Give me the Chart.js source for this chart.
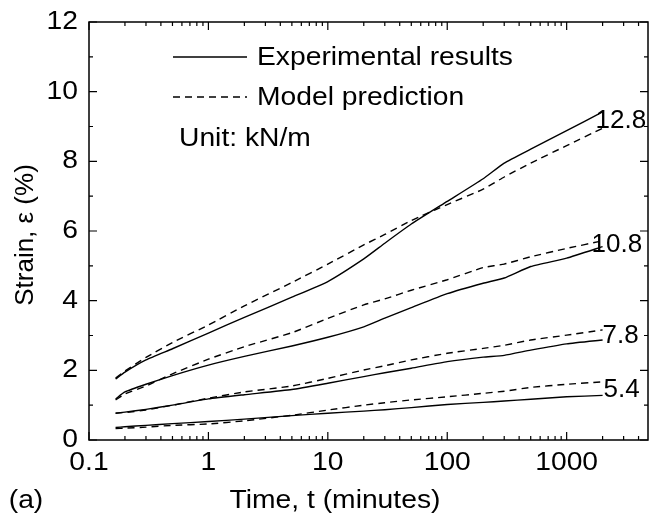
<!DOCTYPE html>
<html>
<head>
<meta charset="utf-8">
<script src="https://cdn.jsdelivr.net/npm/chart.js@4/dist/chart.umd.min.js"></script>
<style>
  html, body { margin: 0; padding: 0; background: #fff; }
  canvas { display: block; }
</style>
</head>
<body>
<canvas id="chart" width="651" height="518"></canvas>
<script>
// time in minutes (log axis)
const times = [0.167, 0.2, 0.3, 0.5, 1, 2, 5, 10, 20, 30, 50, 100, 200, 300, 500, 1000, 2000]

// load levels, kN/m
const loads = ['5.4', '7.8', '10.8', '12.8']

// strain (%) – experimental results
const exp54  = [0.36, 0.38, 0.42, 0.47, 0.53, 0.60, 0.70, 0.77, 0.83, 0.87, 0.93, 1.02, 1.08, 1.12, 1.17, 1.24, 1.28]
const exp78  = [0.77, 0.80, 0.88, 1.00, 1.18, 1.30, 1.45, 1.63, 1.82, 1.93, 2.06, 2.25, 2.38, 2.43, 2.58, 2.76, 2.87]
const exp108 = [1.18, 1.38, 1.60, 1.85, 2.15, 2.40, 2.70, 2.95, 3.25, 3.50, 3.80, 4.20, 4.50, 4.65, 4.98, 5.22, 5.55]
const exp128 = [1.75, 1.95, 2.30, 2.62, 3.07, 3.52, 4.10, 4.55, 5.20, 5.65, 6.20, 6.85, 7.50, 7.95, 8.35, 8.88, 9.42]

// strain (%) – model prediction
const mod54  = [0.33, 0.34, 0.37, 0.42, 0.46, 0.55, 0.71, 0.86, 1.00, 1.07, 1.15, 1.24, 1.34, 1.40, 1.51, 1.60, 1.67]
const mod78  = [0.77, 0.79, 0.86, 1.00, 1.20, 1.38, 1.55, 1.77, 2.01, 2.13, 2.30, 2.49, 2.63, 2.72, 2.87, 3.01, 3.16]
const mod108 = [1.15, 1.32, 1.55, 1.90, 2.32, 2.68, 3.08, 3.49, 3.88, 4.05, 4.30, 4.60, 4.95, 5.05, 5.26, 5.50, 5.72]
const mod128 = [1.78, 1.98, 2.37, 2.80, 3.30, 3.85, 4.52, 5.05, 5.60, 5.90, 6.30, 6.76, 7.20, 7.55, 7.95, 8.45, 8.95]

const xTicks = [0.1, 1, 10, 100, 1000]
const yTicks = [0, 2, 4, 6, 8, 10, 12]

const expSeries = [exp54, exp78, exp108, exp128]
const modSeries = [mod54, mod78, mod108, mod128]

const FONT = "'Liberation Sans', Arial, Helvetica, sans-serif"
Chart.defaults.font.family = FONT
Chart.defaults.color = '#000'

const pts = arr => times.map((t, i) => ({ x: t, y: arr[i] }))

const datasets = [
  ...expSeries.map((s, i) => ({
    label: 'Experimental ' + loads[i], data: pts(s),
    borderColor: '#000', borderWidth: 1.4, pointRadius: 0, tension: 0.15, fill: false,
  })),
  ...modSeries.map((s, i) => ({
    label: 'Model ' + loads[i], data: pts(s),
    borderColor: '#000', borderWidth: 1.4, borderDash: [7, 5], pointRadius: 0, tension: 0.15, fill: false,
  })),
]

// sx: the original figure is a bit stretched sideways
function text(ctx, str, x, y, align, sx = 1.13) {
  ctx.save()
  ctx.translate(x, y)
  ctx.scale(sx, 1)
  ctx.textAlign = align
  ctx.fillText(str, 0, 0)
  ctx.restore()
}

// frame, inward ticks, tick labels, legend, axis titles and curve labels
const overlay = {
  id: 'overlay',
  afterDraw(chart) {
    const { ctx, chartArea: a, scales: { x, y } } = chart
    ctx.save()
    ctx.strokeStyle = '#000'
    ctx.lineWidth = 1.5
    ctx.strokeRect(a.left, a.top, a.right - a.left, a.bottom - a.top)

    ctx.lineWidth = 1.2
    ctx.beginPath()
    // x ticks, top and bottom
    xTicks.forEach(d => {
      for (let k = 1; k <= 9; k++) {
        const v = d * k
        if (v > x.max) break
        const px = x.getPixelForValue(v)
        const len = k === 1 ? 8 : 4
        ctx.moveTo(px, a.bottom); ctx.lineTo(px, a.bottom - len)
        ctx.moveTo(px, a.top); ctx.lineTo(px, a.top + len)
      }
    })
    // y ticks, left and right
    for (let v = 0; v <= 12; v++) {
      const py = y.getPixelForValue(v)
      const len = v % 2 === 0 ? 8 : 4
      ctx.moveTo(a.left, py); ctx.lineTo(a.left + len, py)
      ctx.moveTo(a.right, py); ctx.lineTo(a.right - len, py)
    }
    ctx.stroke()

    ctx.fillStyle = '#000'
    ctx.font = '25px ' + FONT
    ctx.textBaseline = 'middle'

    // tick labels
    xTicks.forEach(v => text(ctx, String(v), x.getPixelForValue(v), a.bottom + 23, 'center'))
    yTicks.forEach(v => text(ctx, String(v), a.left - 11, y.getPixelForValue(v), 'right'))

    // legend
    ctx.lineWidth = 1.4
    ctx.beginPath(); ctx.moveTo(173, 57); ctx.lineTo(247, 57); ctx.stroke()
    ctx.setLineDash([7, 5])
    ctx.beginPath(); ctx.moveTo(173, 97); ctx.lineTo(247, 97); ctx.stroke()
    ctx.setLineDash([])

    text(ctx, 'Experimental results', 257, 58, 'left')
    text(ctx, 'Model prediction', 257, 98, 'left')
    text(ctx, 'Unit: kN/m', 179, 139, 'left')

    // curve labels at the end of each pair
    ctx.font = '26px ' + FONT
    const shift = [1, 0, -11, -7]
    const xEnd = x.getPixelForValue(times[times.length - 1])
    loads.forEach((lab, i) => {
      const e = expSeries[i][times.length - 1]
      const m = modSeries[i][times.length - 1]
      text(ctx, lab, xEnd + shift[i], y.getPixelForValue((e + m) / 2) + 1, 'left', 1.0)
    })

    // axis titles
    ctx.font = '25px ' + FONT
    text(ctx, 'Time, t (minutes)', 335, 501, 'center')
    text(ctx, '(a)', 26, 501, 'center')
    ctx.save()
    ctx.translate(26, 235)
    ctx.rotate(-Math.PI / 2)
    ctx.font = '26px ' + FONT
    ctx.textAlign = 'center'
    ctx.fillText('Strain, ε (%)', 0, 0)
    ctx.restore()

    ctx.restore()
  },
}

new Chart(document.getElementById('chart'), {
  type: 'line',
  data: { datasets },
  options: {
    responsive: false,
    animation: false,
    layout: { padding: { left: 0, top: 22, right: 3, bottom: 0 } },
    plugins: {
      legend: { display: false },
      tooltip: { enabled: false },
    },
    scales: {
      x: {
        type: 'logarithmic',
        min: 0.1,
        max: 4800,
        grid: { display: false, drawTicks: false },
        border: { display: false },
        afterBuildTicks: s => { s.ticks = xTicks.map(v => ({ value: v })) },
        afterFit: s => { s.height = 78 },
        ticks: { display: false },
      },
      y: {
        min: 0,
        max: 12,
        grid: { display: false, drawTicks: false },
        border: { display: false },
        afterBuildTicks: s => { s.ticks = yTicks.map(v => ({ value: v })) },
        afterFit: s => { s.width = 89 },
        ticks: { display: false },
      },
    },
  },
  plugins: [overlay],
})
</script>
</body>
</html>
